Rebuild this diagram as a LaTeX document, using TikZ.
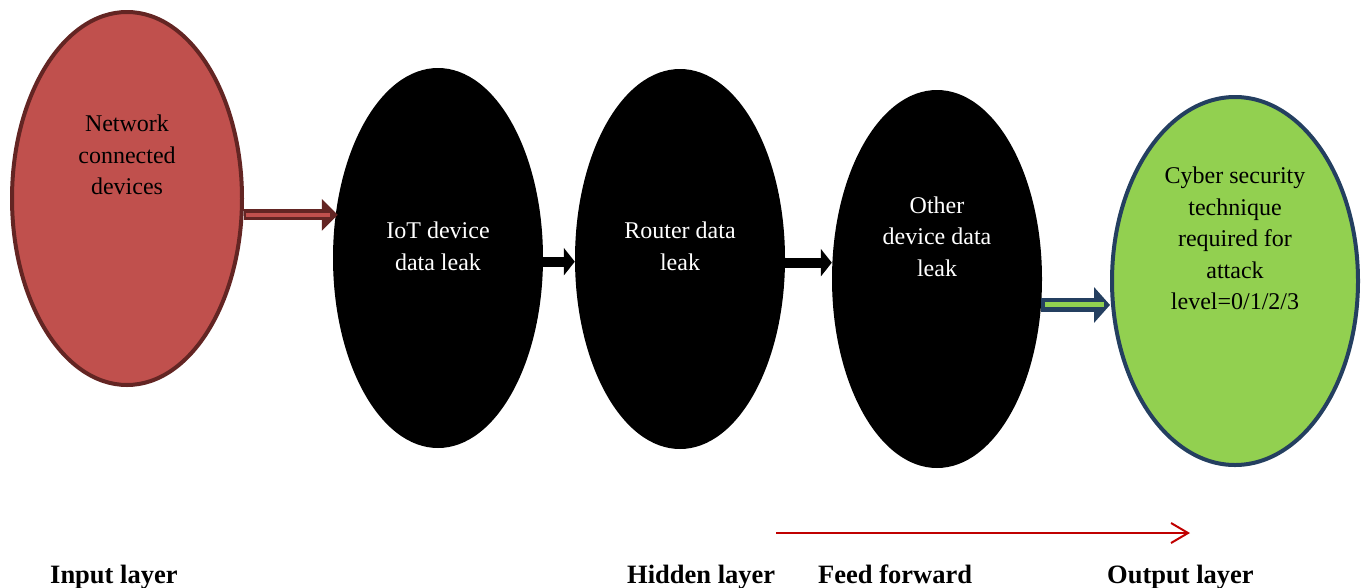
\documentclass[tikz,border=0pt]{standalone}
\usepackage{fontspec}
\setmainfont{Liberation Serif}
\usetikzlibrary{shapes.geometric,arrows.meta,calc}
\definecolor{inred}{HTML}{C0504D}
\definecolor{inredline}{HTML}{632523}
\definecolor{outgreen}{HTML}{92D050}
\definecolor{outnavy}{HTML}{243F60}
\definecolor{ffred}{HTML}{C00000}

\begin{document}
\begin{tikzpicture}[x=1pt,y=-1pt,
  layer/.style={ellipse, inner sep=0pt},
  hidden/.style={layer, fill=black, minimum width=210pt, minimum height=380pt},
  body/.style={align=center, inner sep=0pt, font=\fontsize{24}{31.5}\selectfont},
  caption/.style={anchor=base west, inner sep=0pt, font=\fontsize{26.5}{30}\selectfont\bfseries},
]
\useasboundingbox (0,0) rectangle (1367,587);

% layers
\node[layer, fill=inred, draw=inredline, line width=4pt,
      minimum width=230pt, minimum height=373pt] (net) at (127,198.5) {};
\node[hidden] (iot) at (438,258) {};
\node[hidden] (router) at (680,259) {};
\node[hidden, minimum height=378pt] (other) at (937,279) {};
\node[layer, fill=outgreen, draw=outnavy, line width=4pt,
      minimum width=246pt, minimum height=368pt] (green) at (1235,281) {};

% layer texts
\node[body] (nett) at (127,155) {Network\\connected\\devices};
\node[body, text=white] (iott) at (438,246.5) {IoT device\\data leak};
\node[body, text=white] (routert) at (680,246.5) {Router data\\leak};
\node[body, text=white] (othert) at (937,236.5) {Other\\device data\\leak};
\node[body] (greent) at (1235,238.5) {Cyber security\\technique\\required for\\attack\\level=0/1/2/3};

% block arrows between layers
\draw[inredline, line width=11pt, -{Triangle[length=16pt,width=31pt]}, shorten >=-5pt]
  (net.-8.5) -- (net.-8.5 -| iot.west);
\draw[inred, line width=4pt, shorten >=3pt, shorten <=2pt]
  (net.-8.5) -- (net.-8.5 -| iot.west);

\draw[black, line width=10pt, -{Triangle[length=11pt,width=27pt]}]
  (iot.-2.7) -- (iot.-2.7 -| router.west);
\draw[black, line width=10pt, -{Triangle[length=11pt,width=27pt]}]
  (router.-2) -- (router.-2 -| other.west);

\draw[outnavy, line width=14pt, -{Triangle[length=16pt,width=35pt]}]
  (other.-14.5) -- (other.-14.5 -| green.west);
\draw[outgreen, line width=5pt, shorten >=6pt, shorten <=4pt]
  (other.-14.5) -- (other.-14.5 -| green.west);

% feed-forward direction
\coordinate (ffs) at (776,533);
\coordinate (ffe) at (1190,533);
\draw[ffred, line width=2pt, -{Straight Barb[length=17pt,width=20pt]}] (ffs) -- (ffe);

% captions
\node[caption] (cin) at (50,583) {Input layer};
\node[caption] (chid) at (627,583) {Hidden layer};
\node[caption] (cff) at (818,583) {Feed forward};
\node[caption] (cout) at (1107,583) {Output layer};
\end{tikzpicture}
\end{document}
